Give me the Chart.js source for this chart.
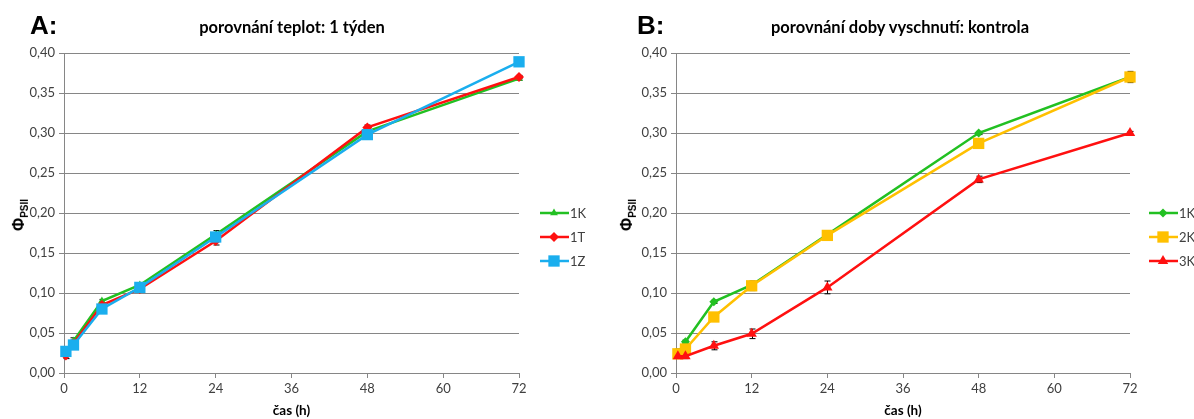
<!DOCTYPE html>
<html>
<head>
<meta charset="utf-8">
<script src="https://cdn.jsdelivr.net/npm/chart.js@4.4.1/dist/chart.umd.min.js"></script>
<style>
body { margin: 0; background: #fff; font-family: Lato, "Open Sans", sans-serif; }
.panel { position: absolute; top: 0; width: 597px; height: 419px; }
.box { position: absolute; left: 0; top: 0; width: 597px; height: 419px; }
.letter { position: absolute; top: 10px; font: bold 26px "Liberation Sans", Arial, sans-serif; color: #000; }
.title { position: absolute; top: 17px; font: bold 16.5px Lato, sans-serif; color: #000; white-space: nowrap; transform: translateX(-50%); }
.ytitle { position: absolute; font: bold 16px "Liberation Sans", Arial, sans-serif; color: #000; transform: translate(-50%, -50%) rotate(-90deg); white-space: nowrap; }
.ytitle sub { font-size: 10px; }
.legend { position: absolute; font: 13px Lato, sans-serif; color: #404040; white-space: nowrap; width: 50px; }
.legend div { height: 24px; display: flex; align-items: center; }
</style>
</head>
<body>
<div class="panel" style="left:0">
  <div class="box"><canvas id="chartA"></canvas></div>
  <div class="letter" style="left:30px">A:</div>
  <div class="title" style="left:292px">porovnání teplot: 1 týden</div>
  <div class="ytitle" style="left:20px;top:215px">Φ<sub>PSII</sub></div>
  <div class="legend" id="legA" style="left:539px;top:201px"></div>
</div>
<div class="panel" style="left:597px">
  <div class="box"><canvas id="chartB"></canvas></div>
  <div class="letter" style="left:40px">B:</div>
  <div class="title" style="left:303px">porovnání doby vyschnutí: kontrola</div>
  <div class="ytitle" style="left:31px;top:215px">Φ<sub>PSII</sub></div>
  <div class="legend" id="legB" style="left:551px;top:201px"></div>
</div>
<script>
// casy mereni (h)
var hours = [0.3, 1.5, 6, 12, 24, 48, 72];

// A: porovnani teplot
var a1K = [0.025, 0.040, 0.090, 0.110, 0.173, 0.302, 0.368];
var a1T = [0.022, 0.037, 0.085, 0.105, 0.165, 0.307, 0.370];
var a1Z = [0.027, 0.035, 0.080, 0.107, 0.170, 0.298, 0.389];
var a1KErr = [0.003, 0.004, 0.002, 0.002, 0.005, 0.003, 0.002];
var a1TErr = [0.004, 0.004, 0.002, 0.002, 0.005, 0.003, 0.002];
var a1ZErr = [0.003, 0.004, 0.002, 0.002, 0.005, 0.002, 0.002];

// B: porovnani doby vyschnuti
var b1K = [0.025, 0.039, 0.089, 0.110, 0.173, 0.300, 0.370];
var b2K = [0.024, 0.030, 0.070, 0.109, 0.172, 0.287, 0.370];
var b3K = [0.021, 0.021, 0.034, 0.049, 0.107, 0.242, 0.300];
var b1KErr = [0.005, 0.002, 0.002, 0.002, 0.002, 0.002, 0.002];
var b2KErr = [0.004, 0.003, 0.002, 0.006, 0.002, 0.005, 0.007];
var b3KErr = [0.003, 0.003, 0.005, 0.006, 0.008, 0.004, 0.002];

var yTicksMax = 0.40;
var yStep = 0.05;
var xStep = 12;

function pts(vals) {
  return vals.map(function (v, i) { return { x: hours[i], y: v }; });
}

function ds(label, vals, err, color, style, radius, order) {
  return {
    label: label, data: pts(vals), err: err,
    borderColor: color, backgroundColor: color,
    pointStyle: style, pointRadius: radius, pointHoverRadius: radius,
    pointBorderWidth: 0, borderWidth: 2.5, order: order,
    showLine: true, tension: 0, clip: false
  };
}

// chybove usecky pod znackami
var errorBars = {
  id: 'errorBars',
  beforeDatasetsDraw: function (chart) {
    var ctx = chart.ctx, ys = chart.scales.y, xs = chart.scales.x;
    ctx.save();
    ctx.strokeStyle = '#000';
    ctx.lineWidth = 1;
    chart.data.datasets.forEach(function (d) {
      if (!d.err) return;
      d.data.forEach(function (p, i) {
        var px = Math.round(xs.getPixelForValue(p.x)) + 0.5;
        var top = ys.getPixelForValue(p.y + d.err[i]);
        var bot = ys.getPixelForValue(p.y - d.err[i]);
        ctx.beginPath();
        ctx.moveTo(px, top); ctx.lineTo(px, bot);
        ctx.moveTo(px - 3, top); ctx.lineTo(px + 3, top);
        ctx.moveTo(px - 3, bot); ctx.lineTo(px + 3, bot);
        ctx.stroke();
      });
    });
    ctx.restore();
  }
};

function makeChart(id, datasets, yWidth, rightPad) {
  return new Chart(document.getElementById(id), {
    type: 'scatter',
    data: { datasets: datasets },
    plugins: [errorBars],
    options: {
      responsive: true,
      maintainAspectRatio: false,
      animation: false,
      layout: { padding: { left: 0, right: rightPad, top: 53, bottom: 0 } },
      plugins: { legend: { display: false }, tooltip: { enabled: false } },
      scales: {
        x: {
          type: 'linear', min: 0, max: 72,
          ticks: { stepSize: xStep, color: '#404040', font: { family: 'Lato', size: 13 }, padding: 3 },
          grid: { drawOnChartArea: false, color: '#868686', tickLength: 5 },
          border: { color: '#868686' },
          title: { display: true, text: 'čas (h)', color: '#000', font: { family: 'Lato', size: 13.5, weight: 'bold' }, padding: { top: 3, bottom: 0 } },
          afterFit: function (s) { s.height = 46; }
        },
        y: {
          min: 0, max: yTicksMax,
          ticks: {
            stepSize: yStep, color: '#404040', font: { family: 'Lato', size: 13 }, padding: 4,
            callback: function (v) { return v.toFixed(2).replace('.', ','); }
          },
          grid: { color: '#868686', tickLength: 5 },
          border: { color: '#868686' },
          afterFit: function (s) { s.width = yWidth; }
        }
      }
    }
  });
}

var dsA = [
  ds('1K', a1K, a1KErr, '#22c022', 'triangle', 4.5, 3),
  ds('1T', a1T, a1TErr, '#ff1010', 'rectRot', 5, 2),
  ds('1Z', a1Z, a1ZErr, '#1aaeee', 'rect', 8, 1)
];
var dsB = [
  ds('1K', b1K, b1KErr, '#22c022', 'rectRot', 4.5, 3),
  ds('2K', b2K, b2KErr, '#ffc000', 'rect', 8, 2),
  ds('3K', b3K, b3KErr, '#ff1010', 'triangle', 6, 1)
];

makeChart('chartA', dsA, 64, 78);
makeChart('chartB', dsB, 79, 64);

function shape(style, r, color) {
  var c = 15;
  if (style === 'rect') { var s = r * Math.SQRT1_2; return '<rect x="' + (c - s) + '" y="' + (6 - s) + '" width="' + 2 * s + '" height="' + 2 * s + '" fill="' + color + '"/>'; }
  if (style === 'rectRot') return '<polygon points="' + c + ',' + (6 - r) + ' ' + (c + r) + ',6 ' + c + ',' + (6 + r) + ' ' + (c - r) + ',6" fill="' + color + '"/>';
  return '<polygon points="' + c + ',' + (6 - r) + ' ' + (c + r * 0.87) + ',' + (6 + r / 2) + ' ' + (c - r * 0.87) + ',' + (6 + r / 2) + '" fill="' + color + '"/>';
}

function legend(id, datasets) {
  var html = '';
  datasets.forEach(function (d) {
    html += '<div><svg width="31" height="12"><line x1="1" y1="6" x2="30" y2="6" stroke="' + d.borderColor + '" stroke-width="2.5"/>' +
      shape(d.pointStyle, d.pointRadius, d.borderColor) + '</svg>' + d.label + '</div>';
  });
  document.getElementById(id).innerHTML = html;
}
legend('legA', dsA);
legend('legB', dsB);
</script>
</body>
</html>
